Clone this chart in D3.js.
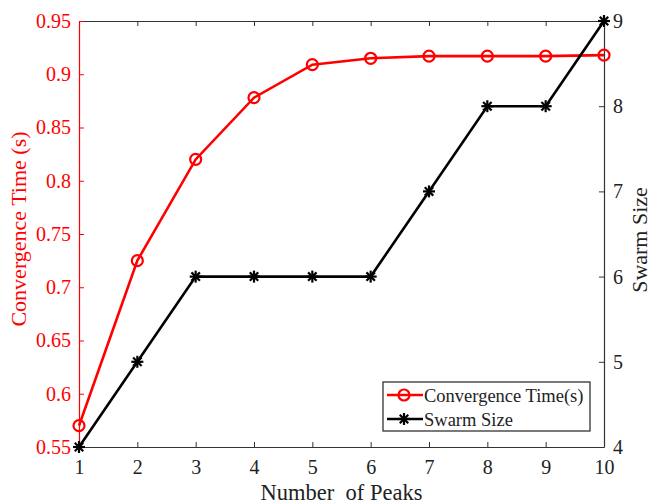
<!DOCTYPE html>
<html><head><meta charset="utf-8">
<script src="https://cdn.jsdelivr.net/npm/d3@7"></script>
<style>
html,body{margin:0;padding:0;background:#fff;}
svg text{font-family:"Liberation Serif","Times New Roman",serif !important;}
</style></head>
<body><svg id="chart" width="651" height="504"></svg>
<script>
const peaks = [1,2,3,4,5,6,7,8,9,10];
const convergenceTime = [0.57,0.725,0.82,0.878,0.909,0.915,0.917,0.917,0.917,0.918];
const swarmSize = [4,5,6,6,6,6,7,8,8,9];
const xTicks = [1,2,3,4,5,6,7,8,9,10];
const leftTicks = [0.55,0.6,0.65,0.7,0.75,0.8,0.85,0.9,0.95];
const rightTicks = [4,5,6,7,8,9];

const svg = d3.select("#chart");
const L = 79, R = 604, T = 21, B = 447;
const red = "#ff0000";
const ink = "#222";
const serif = "Liberation Serif";

const x = d3.scaleLinear().domain([1,10]).range([L,R]);
const yL = d3.scaleLinear().domain([0.55,0.95]).range([B,T]);
const yR = d3.scaleLinear().domain([4,9]).range([B,T]);

const fmtL = d => String(+d.toFixed(2));

// bottom axis (ticks pointing inward)
const gb = svg.append("g").attr("transform",`translate(0,${B})`)
  .call(d3.axisBottom(x).tickValues(xTicks).tickSizeInner(-5).tickSizeOuter(0).tickPadding(10).tickFormat(d3.format("d")));
// top mirror axis
const gt = svg.append("g").attr("transform",`translate(0,${T})`)
  .call(d3.axisTop(x).tickValues(xTicks).tickSizeInner(-5).tickSizeOuter(0).tickFormat(""));
// left axis (red)
const gl = svg.append("g").attr("transform",`translate(${L},0)`)
  .call(d3.axisLeft(yL).tickValues(leftTicks).tickSizeInner(-5).tickSizeOuter(0).tickPadding(8).tickFormat(fmtL));
// right axis
const gr = svg.append("g").attr("transform",`translate(${R},0)`)
  .call(d3.axisRight(yR).tickValues(rightTicks).tickSizeInner(-5).tickSizeOuter(0).tickPadding(9).tickFormat(d3.format("d")));

[gb,gt,gl,gr].forEach(g=>{
  g.attr("font-family",serif);
  g.selectAll("text").attr("font-size",20).style("font-family",serif);
  g.select(".domain").attr("stroke-width",1.2);
  g.selectAll(".tick line").attr("stroke-width",1);
});
gb.selectAll("text").attr("fill",ink).attr("dy","0.85em");
gr.selectAll("text").attr("fill",ink);
[gt,gb,gr].forEach(g=>{ g.select(".domain").attr("stroke","#333"); g.selectAll(".tick line").attr("stroke","#333"); });
gl.select(".domain").attr("stroke",red);
gl.selectAll(".tick line").attr("stroke",red);
gl.selectAll("text").attr("fill",red);

// series lines
const lineL = d3.line().x((d,i)=>x(peaks[i])).y(d=>yL(d));
const lineR = d3.line().x((d,i)=>x(peaks[i])).y(d=>yR(d));

svg.append("path").datum(convergenceTime).attr("d",lineL)
  .attr("fill","none").attr("stroke",red).attr("stroke-width",2.6);
svg.append("path").datum(swarmSize).attr("d",lineR)
  .attr("fill","none").attr("stroke","#000").attr("stroke-width",2.6);

// asterisk marker
function star(g, cx, cy, r){
  const s = g.append("g").attr("transform",`translate(${cx},${cy})`);
  [0,45,90,135].forEach(a=>{
    const rad=a*Math.PI/180;
    s.append("line").attr("x1",-r*Math.cos(rad)).attr("y1",-r*Math.sin(rad))
      .attr("x2",r*Math.cos(rad)).attr("y2",r*Math.sin(rad))
      .attr("stroke","#000").attr("stroke-width",2.2);
  });
}
const mk = svg.append("g");
convergenceTime.forEach((v,i)=>{
  mk.append("circle").attr("cx",x(peaks[i])).attr("cy",yL(v)).attr("r",5.5)
    .attr("fill","none").attr("stroke",red).attr("stroke-width",2.2);
});
swarmSize.forEach((v,i)=>star(mk,x(peaks[i]),yR(v),6));

// axis titles
svg.append("text").attr("x",(L+R)/2).attr("y",500).attr("text-anchor","middle")
  .attr("font-size",22.5).attr("fill",ink).style("white-space","pre").text("Number  of Peaks");
svg.append("text").attr("transform",`translate(26,229) rotate(-90)`)
  .attr("text-anchor","middle").attr("font-size",22).attr("fill",red).text("Convergence Time (s)");
svg.append("text").attr("transform",`translate(647,240) rotate(-90)`)
  .attr("text-anchor","middle").attr("font-size",22).attr("fill",ink).text("Swarm Size");

// legend
const lg = svg.append("g").attr("transform","translate(383,382)");
lg.append("rect").attr("width",207).attr("height",49).attr("fill","#fff").attr("stroke",ink).attr("stroke-width",1.2);
lg.append("line").attr("x1",4).attr("x2",40).attr("y1",13).attr("y2",13).attr("stroke",red).attr("stroke-width",2.6);
lg.append("circle").attr("cx",21).attr("cy",13).attr("r",5.5).attr("fill","none").attr("stroke",red).attr("stroke-width",2.2);
lg.append("line").attr("x1",4).attr("x2",40).attr("y1",37).attr("y2",37).attr("stroke","#000").attr("stroke-width",2.6);
star(lg,21,37,6);
lg.append("text").attr("x",41).attr("y",19.5).attr("font-size",18.5).attr("fill",ink).text("Convergence Time(s)");
lg.append("text").attr("x",41).attr("y",43.5).attr("font-size",18.5).attr("fill",ink).text("Swarm Size");
</script></body></html>
